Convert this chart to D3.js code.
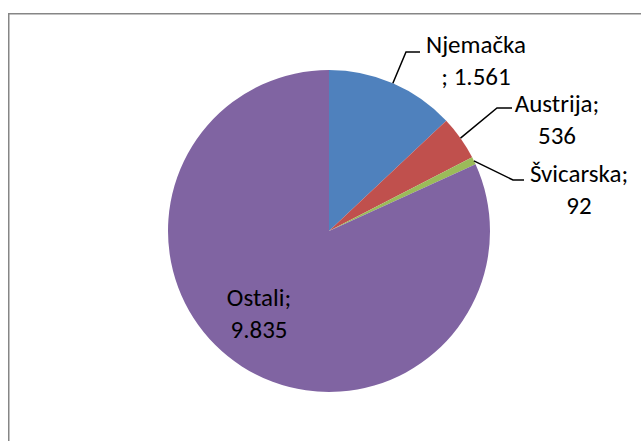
<!DOCTYPE html>
<html><head><meta charset="utf-8">
<script src="https://cdn.jsdelivr.net/npm/d3@7"></script>
<style>body{margin:0;background:#fff}svg{display:block}text{font-family:Carlito,Calibri,"Liberation Sans",sans-serif;font-size:25px;fill:#000}</style>
</head><body>
<svg id="c" width="641" height="441"></svg>
<script>
const categories = ["Njemačka", "Austrija", "Švicarska", "Ostali"];
const values = [1561, 536, 92, 9835];
const valueLabels = ["1.561", "536", "92", "9.835"];
const colors = ["#4F81BD", "#C0504D", "#9BBB59", "#8064A2"];

// layout (pixel positions of labels)
const layout = {
  cx: 329, cy: 231, r: 161,
  labels: [
    {lines: [categories[0], "; " + valueLabels[0]], x: 476, y: 53, elbow: [406, 52], end: [420, 52], leader: true},
    {lines: [categories[1] + ";", valueLabels[1]], x: 557, y: 112, elbow: [497, 108], end: [512, 108], leader: true},
    {lines: [categories[2] + ";", valueLabels[2]], x: 579, y: 182, elbow: [513, 180], end: [524, 180], leader: true},
    {lines: [categories[3] + ";", valueLabels[3]], x: 259, y: 306, leader: false}
  ],
  lineGap: 31.5
};

const svg = d3.select("#c");
svg.append("rect").attr("x", 8.75).attr("y", 13.75).attr("width", 700).attr("height", 500)
  .attr("fill", "none").attr("stroke", "#868686").attr("stroke-width", 1.5);

const pie = d3.pie().sort(null).value(d => d)(values);
const arc = d3.arc().innerRadius(0).outerRadius(layout.r);
const g = svg.append("g").attr("transform", `translate(${layout.cx},${layout.cy})`);
g.selectAll("path").data(pie).join("path").attr("d", arc).attr("fill", (d, i) => colors[i]);

pie.forEach((d, i) => {
  const L = layout.labels[i];
  if (L.leader) {
    const a = (d.startAngle + d.endAngle) / 2;
    const sx = layout.cx + layout.r * Math.sin(a), sy = layout.cy - layout.r * Math.cos(a);
    svg.append("polyline").attr("points", [[sx, sy], L.elbow, L.end].map(p => p.join(",")).join(" "))
      .attr("fill", "none").attr("stroke", "#000").attr("stroke-width", 1.5);
  }
  const t = svg.append("text").attr("text-anchor", "middle");
  L.lines.forEach((ln, k) => t.append("tspan").attr("x", L.x).attr("y", L.y + k * layout.lineGap).text(ln));
});
</script>
</body></html>
